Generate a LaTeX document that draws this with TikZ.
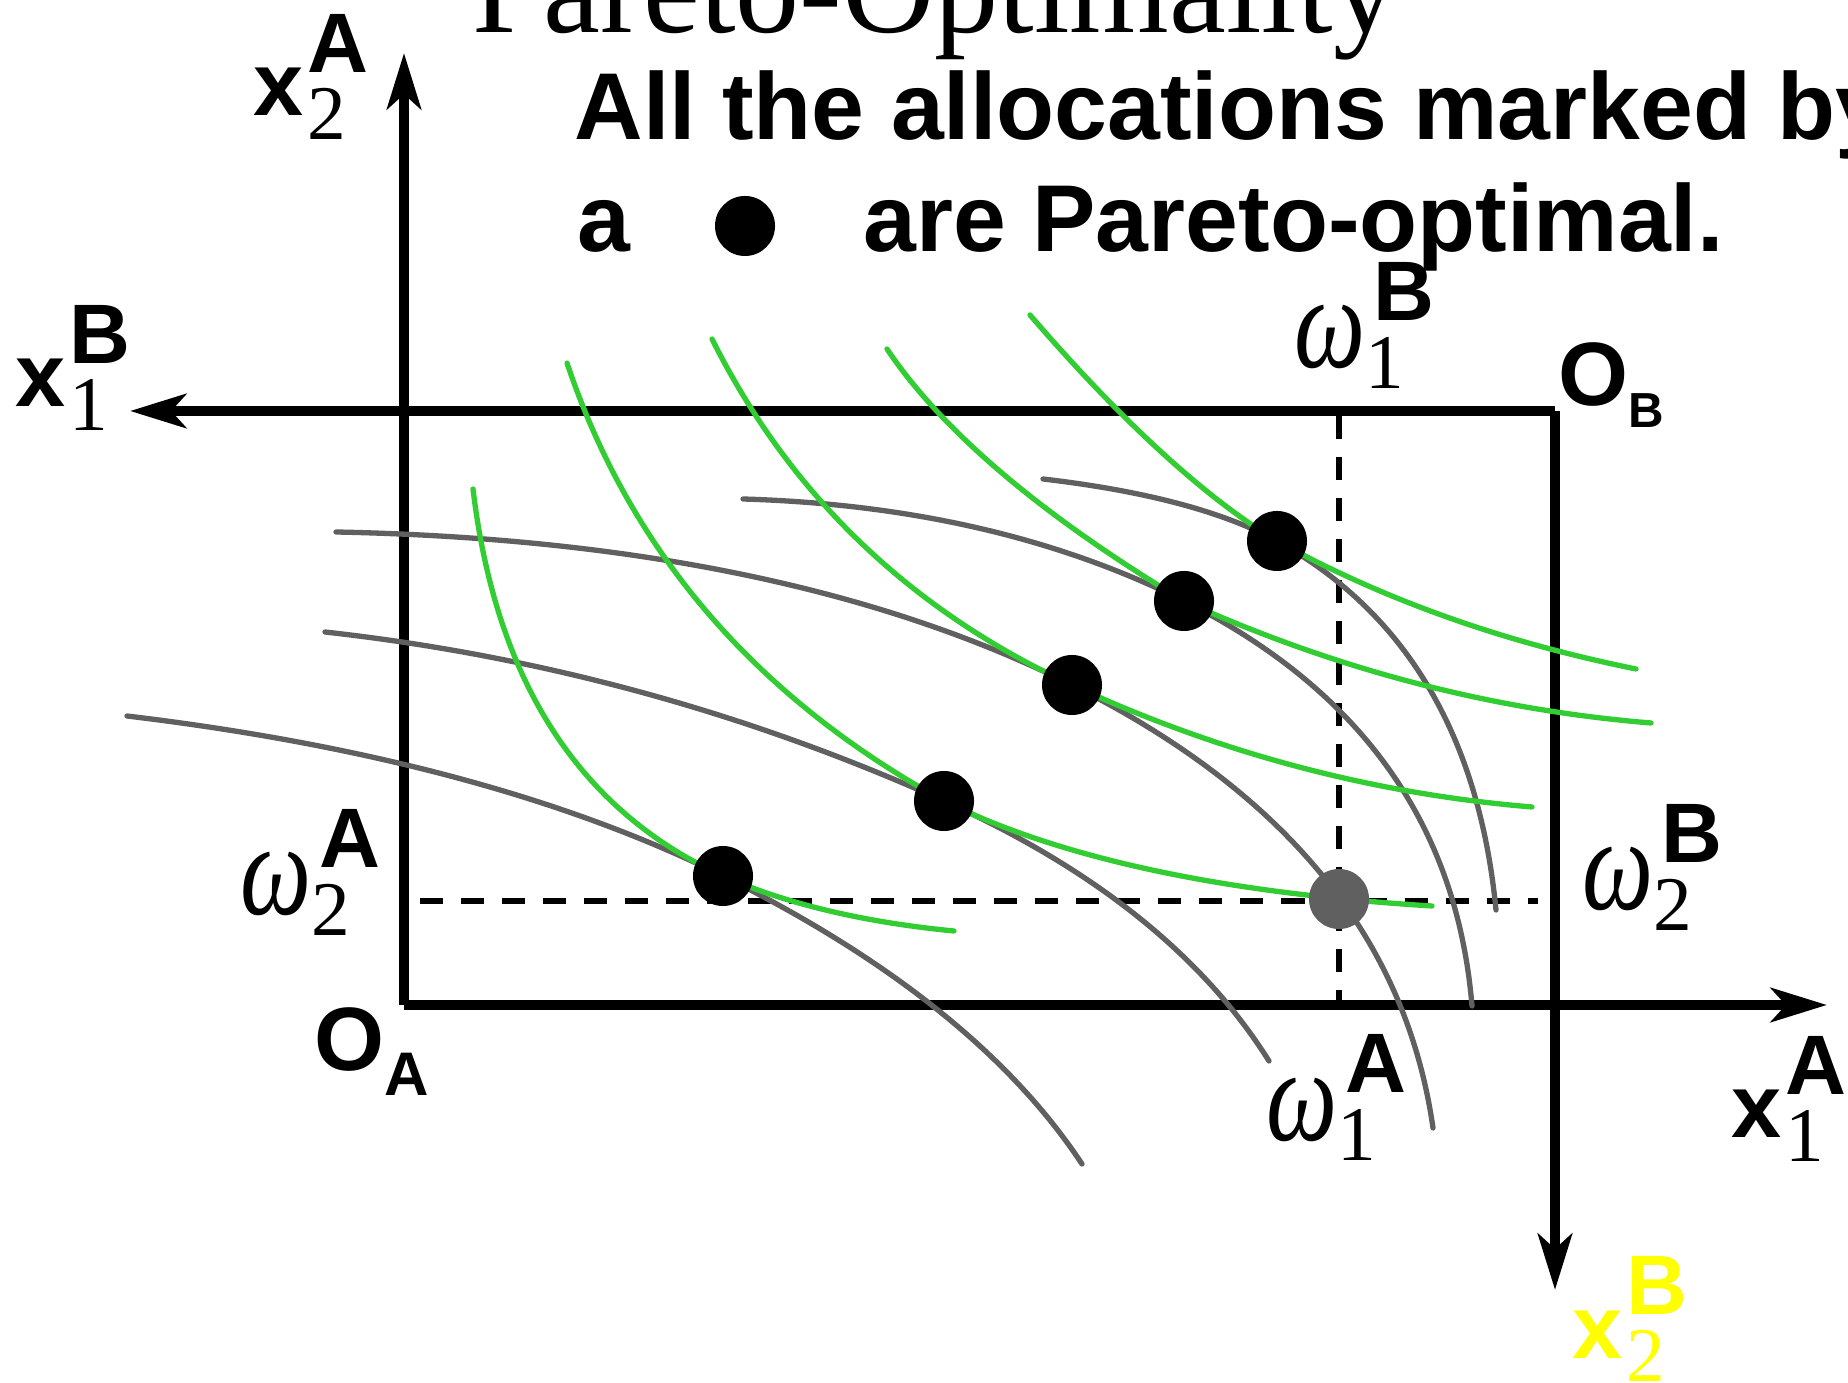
\documentclass[tikz,border=0pt]{standalone}
\usepackage{graphicx}
\usepackage{fontspec}
\setmainfont{Liberation Serif}
\newfontfamily\labsans{Liberation Sans}
\usetikzlibrary{arrows.meta}

\definecolor{indgreen}{RGB}{50,205,50}
\definecolor{indgray}{RGB}{96,96,96}
\definecolor{labyellow}{RGB}{255,255,0}

% label fonts
\newcommand{\labx}{\fontsize{25.6}{26}\selectfont\labsans\bfseries}
\newcommand{\labw}{\fontsize{27}{27}\selectfont\rmfamily\itshape}
\newcommand{\labsub}{\fontsize{22}{22}\selectfont\rmfamily\mdseries\upshape}
\newcommand{\labsup}{\fontsize{24}{24}\selectfont\labsans\bfseries\upshape}
% x and omega with subscript and superscript
\newcommand{\xss}[2]{{\labx x}\kern0.04cm\rlap{\raisebox{-0.23cm}{\labsub #1}}\raisebox{0.43cm}{\labsup #2}}
\newcommand{\wss}[2]{{\labw\scalebox{1.06}[1.4]{ω}}\rlap{\raisebox{-0.2cm}{\labsub #1}}\kern0.08cm\raisebox{0.47cm}{\labsup #2}}

\begin{document}
\begin{tikzpicture}[x=0.01cm, y=-0.01cm,
  axis/.style={line width=0.1cm, -{Stealth[length=0.56cm, width=0.34cm, inset=0.15cm]}},
  guide/.style={line width=0.058cm, dash pattern=on 0.23cm off 0.18cm},
  indA/.style={indgreen, line width=0.053cm, line cap=round},
  indB/.style={indgray, line width=0.053cm, line cap=round},
  optdot/.style={circle, fill=black, inner sep=0pt, minimum size=0.6cm},
  lab/.style={anchor=base west, inner sep=0pt}]
\useasboundingbox (0,0) rectangle (1848,1383);

% Title (cut by the top edge) and note
\node[lab, font=\fontsize{36.4}{37}\selectfont] (title) at (472,33) {Pareto-Optimality};
\node[lab, font=\fontsize{27}{27}\selectfont\labsans\bfseries] (note1) at (574,140) {All the allocations marked by};
\node[lab, font=\fontsize{27}{27}\selectfont\labsans\bfseries] (note2) at (577,252) {a};
\node[optdot] (legdot) at (745,226) {};
\node[lab, font=\fontsize{27}{27}\selectfont\labsans\bfseries] (note3) at (863,252) {are Pareto-optimal.};

% Edgeworth box
\coordinate (OA) at (404,1005);
\coordinate (OB) at (1555,411);
\coordinate (x2Aend) at (404,53);
\coordinate (x1Aend) at (1827,1005);
\coordinate (x1Bend) at (130,411);
\coordinate (x2Bend) at (1555,1290);
\draw[axis] (OA) -- (x2Aend);
\draw[axis] (OA) -- (x1Aend);
\draw[axis] (OB) -- (x1Bend);
\draw[axis] (OB) -- (x2Bend);

% Endowment guides
\coordinate (endow) at (1339,899);
\coordinate (hL) at (420,901);
\coordinate (hR) at (1538,901);
\coordinate (vT) at (1339,416);
\coordinate (vB) at (1339,1000);
\draw[guide] (hL) -- (hR);
\draw[guide] (vT) -- (vB);

% Tangency points
\coordinate (po1) at (723,876);
\coordinate (po2) at (944,801);
\coordinate (po3) at (1072,685);
\coordinate (po4) at (1184,601);
\coordinate (po5) at (1277,541);

% Indifference curves of B
\draw[indB] (127,716) .. controls (369,745) and (568,799) .. (po1) .. controls (890,959) and (1010,1055) .. (1082,1164);
\draw[indB] (325,632) .. controls (540,656) and (746,712) .. (po2) .. controls (1095,869) and (1203,956) .. (1269,1061);
\draw[indB] (336,532) .. controls (635,538) and (880,589) .. (po3) .. controls (1286,792) and (1406,939) .. (1433,1128);
\draw[indB] (743,499) .. controls (911,504) and (1058,538) .. (po4) .. controls (1361,690) and (1457,825) .. (1472,1006);
\draw[indB] (1043,479) .. controls (1146,491) and (1224,512) .. (po5) .. controls (1405,612) and (1479,735) .. (1496,910);

% Indifference curves of A
\draw[indA] (473,489) .. controls (496,682) and (580,811) .. (po1) .. controls (784,903) and (861,922) .. (954,931);
\draw[indA] (567,363) .. controls (630,551) and (755,697) .. (po2) .. controls (1059,858) and (1221,893) .. (1432,906);
\draw[indA] (712,339) .. controls (790,495) and (910,610) .. (po3) .. controls (1221,754) and (1375,794) .. (1532,807);
\draw[indA] (887,349) .. controls (942,431) and (1041,515) .. (po4) .. controls (1337,670) and (1492,710) .. (1651,723);
\draw[indA] (1030,315) .. controls (1124,424) and (1207,499) .. (po5) .. controls (1384,600) and (1503,642) .. (1636,669);

% Dots
\foreach \p in {po1,po2,po3,po4,po5}
  \node[optdot] (dot\p) at (\p) {};
\node[optdot, fill=indgray] (endowdot) at (endow) {};

% Axis labels
\node[lab] (x2A) at (253,116) {\xss{2}{A}};
\node[lab] (x1B) at (15,407) {\xss{1}{B}};
\node[lab] (x1A) at (1731,1138) {\xss{1}{A}};
\node[lab, text=labyellow] (x2B) at (1572,1358) {\xss{2}{B}};
\node[lab] (OAlab) at (314,1071) {{\labx O}\raisebox{-0.24cm}{\fontsize{17.5}{18}\selectfont\labsans\bfseries A}};
\node[lab] (OBlab) at (1558,406) {{\labx O}\raisebox{-0.21cm}{\fontsize{14}{14}\selectfont\labsans\bfseries B}};

% Endowment labels
\node[lab] (w2A) at (240,915) {\wss{2}{A}};
\node[lab] (w1B) at (1294,368) {\wss{1}{B}};
\node[lab] (w2B) at (1582,910) {\wss{2}{B}};
\node[lab] (w1A) at (1266,1140) {\wss{1}{A}};
\end{tikzpicture}
\end{document}
